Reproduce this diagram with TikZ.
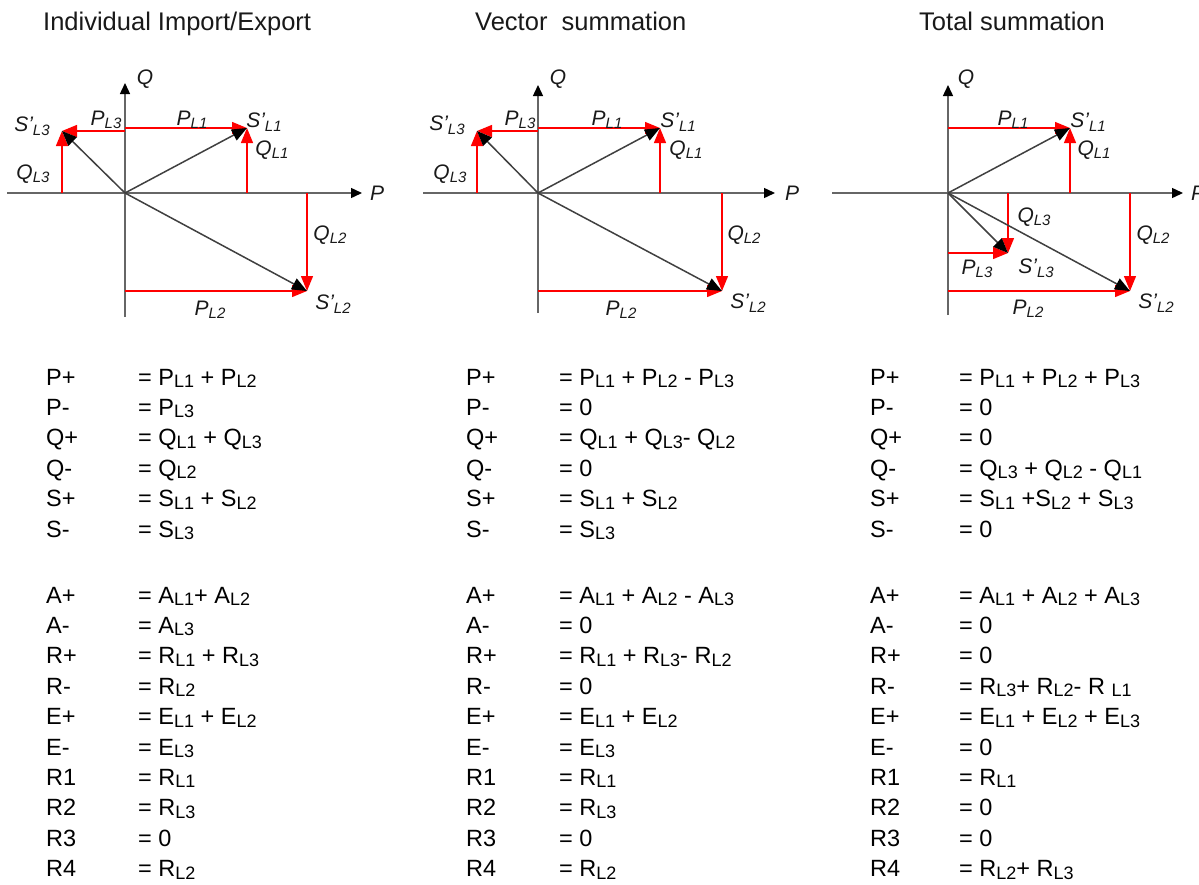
\documentclass[tikz,border=0pt]{standalone}
\usepackage{fontspec}
\setmainfont{Liberation Sans}
\usetikzlibrary{arrows.meta, positioning}

\newcommand{\es}[1]{\raisebox{-2.5pt}{\fontsize{18}{18}\selectfont #1}}
\newcommand{\ls}[1]{\raisebox{-3.5pt}{\fontsize{15}{15}\selectfont #1}}

\tikzset{
  axis/.style={draw=black!60, line width=1.4pt, -{Triangle[length=11pt,width=10pt,color=black]}},
  redarrow/.style={draw=red, line width=1.3pt, -{Triangle[length=15pt,width=12pt]}},
  vec/.style={draw=black!75, line width=1.5pt, -{Triangle[length=15pt,width=12pt,color=black]}},
  lbl/.style={font=\fontsize{21}{21}\selectfont\itshape, inner sep=0pt, text=black!90},
  heading/.style={font=\fontsize{25.5}{26}\selectfont, anchor=base west, inner sep=0pt, text=black!90},
  eqblock/.style={font=\fontsize{23.5}{30.4}\selectfont, anchor=base west, inner sep=0pt, text=black}
}

\begin{document}
\begin{tikzpicture}[x=1pt, y=-1pt]
\useasboundingbox (0,0) rectangle (1199,884);

% Headings
\node (title1) [heading] at (43,30) {Individual Import/Export};
\node (title2) [heading] at (475,30) {Vector\ \ summation};
\node (title3) [heading] at (919,30) {Total summation};

% Individual import/export diagram
\coordinate (org1) at (125,193);
\coordinate (ax1w) at (7,193);
\coordinate (ax1e) at (362,193);
\coordinate (ax1s) at (125,317);
\coordinate (ax1n) at (125,83);
\coordinate (s1L1) at (247,128);
\coordinate (s1L2) at (307,291);
\coordinate (s1L3) at (62,131);
\draw [axis] (ax1w) -- (ax1e);
\draw [axis] (ax1s) -- (ax1n);
\draw [redarrow] (org1 |- s1L1) -- (s1L1);
\draw [redarrow] (s1L1 |- org1) -- (s1L1);
\draw [redarrow] (org1 |- s1L3) -- (s1L3);
\draw [redarrow] (s1L3 |- org1) -- (s1L3);
\draw [redarrow] (s1L2 |- org1) -- (s1L2);
\draw [redarrow] (org1 |- s1L2) -- (s1L2);
\draw [vec] (org1) -- (s1L1);
\draw [vec] (org1) -- (s1L2);
\draw [vec] (org1) -- (s1L3);
\node (q1) [lbl] at (145,79) {Q};
\node (p1) [lbl] at (377,193) {P};
\node (tS1L3) [lbl] at (32,126) {S'\ls{L3}};
\node (tP1L3) [lbl] at (106,120) {P\ls{L3}};
\node (tP1L1) [lbl] at (192,120) {P\ls{L1}};
\node (tS1L1) [lbl] at (264,122) {S'\ls{L1}};
\node (tQ1L1) [lbl] at (272,150) {Q\ls{L1}};
\node (tQ1L3) [lbl] at (33,174) {Q\ls{L3}};
\node (tQ1L2) [lbl] at (330,235) {Q\ls{L2}};
\node (tP1L2) [lbl] at (210,310) {P\ls{L2}};
\node (tS1L2) [lbl] at (333,304) {S'\ls{L2}};

% Vector summation diagram
\coordinate (org2) at (538,193);
\coordinate (ax2w) at (423,193);
\coordinate (ax2e) at (775,193);
\coordinate (ax2s) at (538,313);
\coordinate (ax2n) at (538,85);
\coordinate (s2L1) at (660,128);
\coordinate (s2L2) at (722,291);
\coordinate (s2L3) at (477,131);
\draw [axis] (ax2w) -- (ax2e);
\draw [axis] (ax2s) -- (ax2n);
\draw [redarrow] (org2 |- s2L1) -- (s2L1);
\draw [redarrow] (s2L1 |- org2) -- (s2L1);
\draw [redarrow] (org2 |- s2L3) -- (s2L3);
\draw [redarrow] (s2L3 |- org2) -- (s2L3);
\draw [redarrow] (s2L2 |- org2) -- (s2L2);
\draw [redarrow] (org2 |- s2L2) -- (s2L2);
\draw [vec] (org2) -- (s2L1);
\draw [vec] (org2) -- (s2L2);
\draw [vec] (org2) -- (s2L3);
\node (q2) [lbl] at (558,79) {Q};
\node (p2) [lbl] at (792,193) {P};
\node (tS2L3) [lbl] at (447,125) {S'\ls{L3}};
\node (tP2L3) [lbl] at (520,120) {P\ls{L3}};
\node (tP2L1) [lbl] at (607,120) {P\ls{L1}};
\node (tS2L1) [lbl] at (678,122) {S'\ls{L1}};
\node (tQ2L1) [lbl] at (686,150) {Q\ls{L1}};
\node (tQ2L3) [lbl] at (450,174) {Q\ls{L3}};
\node (tQ2L2) [lbl] at (744,235) {Q\ls{L2}};
\node (tP2L2) [lbl] at (621,310) {P\ls{L2}};
\node (tS2L2) [lbl] at (748,303) {S'\ls{L2}};

% Total summation diagram
\coordinate (org3) at (948,193);
\coordinate (ax3w) at (832,193);
\coordinate (ax3e) at (1183,193);
\coordinate (ax3s) at (948,315);
\coordinate (ax3n) at (948,85);
\coordinate (s3L1) at (1070,128);
\coordinate (s3L2) at (1130,291);
\coordinate (s3L3) at (1008,253);
\draw [axis] (ax3w) -- (ax3e);
\draw [axis] (ax3s) -- (ax3n);
\draw [redarrow] (org3 |- s3L1) -- (s3L1);
\draw [redarrow] (s3L1 |- org3) -- (s3L1);
\draw [redarrow] (s3L3 |- org3) -- (s3L3);
\draw [redarrow] (org3 |- s3L3) -- (s3L3);
\draw [redarrow] (s3L2 |- org3) -- (s3L2);
\draw [redarrow] (org3 |- s3L2) -- (s3L2);
\draw [vec] (org3) -- (s3L1);
\draw [vec] (org3) -- (s3L2);
\draw [vec] (org3) -- (s3L3);
\node (q3) [lbl] at (966,79) {Q};
\node (p3) [lbl] at (1198,193) {P};
\node (tP3L1) [lbl] at (1013,120) {P\ls{L1}};
\node (tS3L1) [lbl] at (1088,122) {S'\ls{L1}};
\node (tQ3L1) [lbl] at (1094,150) {Q\ls{L1}};
\node (tQ3L3) [lbl] at (1034,217) {Q\ls{L3}};
\node (tQ3L2) [lbl] at (1153,235) {Q\ls{L2}};
\node (tP3L3) [lbl] at (977,269) {P\ls{L3}};
\node (tS3L3) [lbl] at (1036,268) {S'\ls{L3}};
\node (tP3L2) [lbl] at (1028,309) {P\ls{L2}};
\node (tS3L2) [lbl] at (1156,303) {S'\ls{L2}};

% Equations
\node (eq1a) [eqblock] at (46,385) {\begin{tabular}[t]{@{}p{92pt}@{}l@{}}
P+ & = P\es{L1} + P\es{L2}\\
P- & = P\es{L3}\\
Q+ & = Q\es{L1} + Q\es{L3}\\
Q- & = Q\es{L2}\\
S+ & = S\es{L1} + S\es{L2}\\
S- & = S\es{L3}
\end{tabular}};
\node (eq1b) [eqblock] at (46,603) {\begin{tabular}[t]{@{}p{92pt}@{}l@{}}
A+ & = A\es{L1}+ A\es{L2}\\
A- & = A\es{L3}\\
R+ & = R\es{L1} + R\es{L3}\\
R- & = R\es{L2}\\
E+ & = E\es{L1} + E\es{L2}\\
E- & = E\es{L3}\\
R1 & = R\es{L1}\\
R2 & = R\es{L3}\\
R3 & = 0\\
R4 & = R\es{L2}
\end{tabular}};
\node (eq2a) [eqblock] at (466,385) {\begin{tabular}[t]{@{}p{93pt}@{}l@{}}
P+ & = P\es{L1} + P\es{L2} - P\es{L3}\\
P- & = 0\\
Q+ & = Q\es{L1} + Q\es{L3}- Q\es{L2}\\
Q- & = 0\\
S+ & = S\es{L1} + S\es{L2}\\
S- & = S\es{L3}
\end{tabular}};
\node (eq2b) [eqblock] at (466,603) {\begin{tabular}[t]{@{}p{93pt}@{}l@{}}
A+ & = A\es{L1} + A\es{L2} - A\es{L3}\\
A- & = 0\\
R+ & = R\es{L1} + R\es{L3}- R\es{L2}\\
R- & = 0\\
E+ & = E\es{L1} + E\es{L2}\\
E- & = E\es{L3}\\
R1 & = R\es{L1}\\
R2 & = R\es{L3}\\
R3 & = 0\\
R4 & = R\es{L2}
\end{tabular}};
\node (eq3a) [eqblock] at (870,385) {\begin{tabular}[t]{@{}p{89pt}@{}l@{}}
P+ & = P\es{L1} + P\es{L2} + P\es{L3}\\
P- & = 0\\
Q+ & = 0\\
Q- & = Q\es{L3} + Q\es{L2} - Q\es{L1}\\
S+ & = S\es{L1} +S\es{L2} + S\es{L3}\\
S- & = 0
\end{tabular}};
\node (eq3b) [eqblock] at (870,603) {\begin{tabular}[t]{@{}p{89pt}@{}l@{}}
A+ & = A\es{L1} + A\es{L2} + A\es{L3}\\
A- & = 0\\
R+ & = 0\\
R- & = R\es{L3}+ R\es{L2}- R \es{L1}\\
E+ & = E\es{L1} + E\es{L2} + E\es{L3}\\
E- & = 0\\
R1 & = R\es{L1}\\
R2 & = 0\\
R3 & = 0\\
R4 & = R\es{L2}+ R\es{L3}
\end{tabular}};

\end{tikzpicture}
\end{document}
